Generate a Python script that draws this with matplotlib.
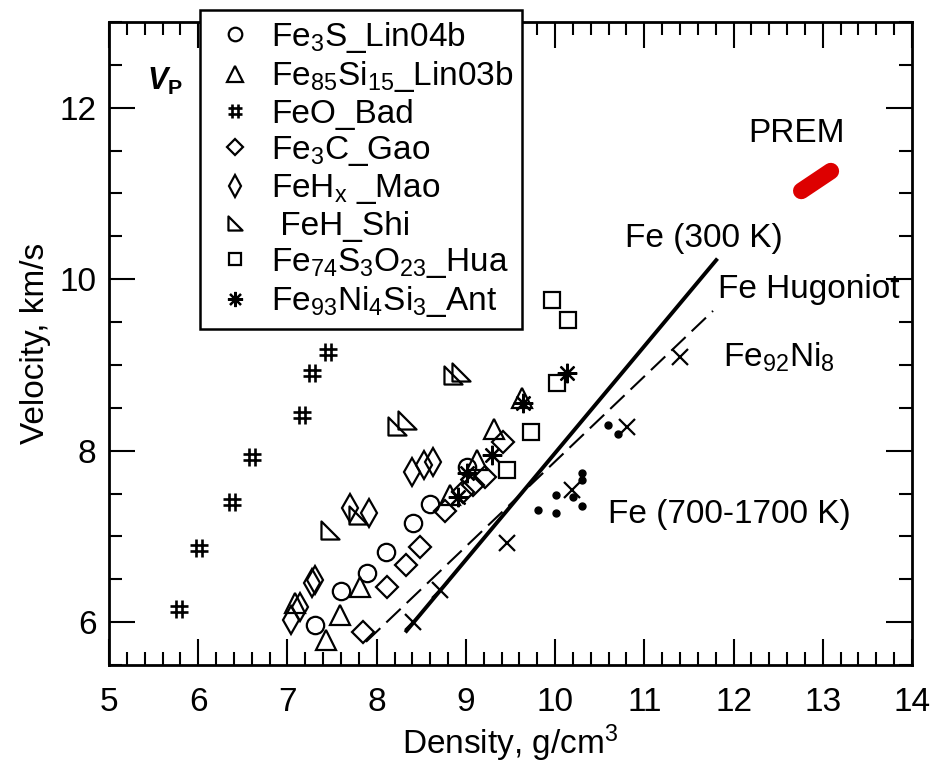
import matplotlib
matplotlib.use('Agg')
import matplotlib.pyplot as plt
from matplotlib.path import Path
from matplotlib.ticker import MultipleLocator

plt.rcParams['font.family'] = ['Liberation Sans', 'DejaVu Sans']
plt.rcParams['mathtext.fontset'] = 'custom'
plt.rcParams['mathtext.rm'] = 'Liberation Sans'
plt.rcParams['mathtext.it'] = 'Liberation Sans:italic:bold'
plt.rcParams['mathtext.bf'] = 'Liberation Sans:bold'
plt.rcParams['mathtext.default'] = 'regular'

# ---------------- data (density g/cm^3, Vp km/s) ----------------
fe3s_x = [7.31, 7.60, 7.89, 8.11, 8.41, 8.60, 9.01]
fe3s_y = [5.97, 6.36, 6.57, 6.82, 7.16, 7.38, 7.81]
fesi_x = [7.09, 7.43, 7.59, 7.81, 8.82, 9.12, 9.31, 9.63]
fesi_y = [6.22, 5.79, 6.08, 6.41, 7.48, 7.89, 8.25, 8.61]
feo_x = [5.78, 6.01, 6.38, 6.60, 7.16, 7.28, 7.455]
feo_y = [6.15, 6.86, 7.40, 7.93, 8.42, 8.91, 9.15]
fe3c_x = [7.85, 8.12, 8.33, 8.48, 8.77, 8.97, 9.08, 9.21, 9.42]
fe3c_y = [5.88, 6.41, 6.67, 6.88, 7.30, 7.52, 7.60, 7.69, 8.10]
fehx_x = [7.04, 7.14, 7.28, 7.31, 7.70, 7.91, 8.40, 8.53, 8.63]
fehx_y = [6.02, 6.18, 6.46, 6.49, 7.33, 7.27, 7.75, 7.83, 7.87]
feh_x = [7.48, 7.79, 8.23, 8.34, 8.85, 8.95]
feh_y = [7.07, 7.25, 8.29, 8.36, 8.88, 8.92]
fso_x = [9.46, 9.73, 10.02, 9.97, 10.15]
fso_y = [7.77, 8.22, 8.79, 9.76, 9.52]
fnsi_x = [8.91, 9.01, 9.29, 9.64, 10.13]
fnsi_y = [7.46, 7.74, 7.95, 8.56, 8.91]
feni_x = [8.41, 8.71, 9.46, 10.19, 10.81, 11.40]
feni_y = [6.00, 6.37, 6.92, 7.54, 8.28, 9.09]
fehot_x = [9.81, 10.01, 10.01, 10.20, 10.30, 10.30, 10.30, 10.59, 10.70]
fehot_y = [7.31, 7.27, 7.48, 7.46, 7.35, 7.74, 7.66, 8.30, 8.19]
fe300_x = [8.32, 11.82]
fe300_y = [5.88, 10.24]
hug_x = [7.88, 11.77]
hug_y = [5.77, 9.63]
prem_x = [12.76, 13.09]
prem_y = [11.03, 11.26]

labels = ['Fe$_3$S_Lin04b', 'Fe$_{85}$Si$_{15}$_Lin03b', 'FeO_Bad', 'Fe$_3$C_Gao',
          'FeH$_x$ _Mao', ' FeH_Shi', 'Fe$_{74}$S$_3$O$_{23}$_Hua', 'Fe$_{93}$Ni$_4$Si$_3$_Ant']

FS = 24

hash_marker = Path([(-0.35, -1), (-0.35, 1), (0.35, -1), (0.35, 1),
                    (-1, -0.35), (1, -0.35), (-1, 0.35), (1, 0.35)],
                   [Path.MOVETO, Path.LINETO] * 4)
rtri_marker = Path([(-1, -1), (-1, 1), (1, -1), (-1, -1)],
                   [Path.MOVETO, Path.LINETO, Path.LINETO, Path.CLOSEPOLY])

fig = plt.figure(figsize=(9.32, 7.71), dpi=100)
ax = fig.add_axes([0.117, 0.1375, 0.8615, 0.834])

ax.plot(fe300_x, fe300_y, color='k', lw=2.8, solid_capstyle='butt')
ax.plot(hug_x, hug_y, color='k', lw=1.5, dashes=(9.5, 4))
ax.plot(prem_x, prem_y, color='#dd0000', lw=12, solid_capstyle='round')

com = dict(ls='none', mec='k', mfc='none', mew=1.6)
ax.plot(fe3s_x, fe3s_y, marker='o', ms=12.5, label=labels[0], **com)
ax.plot(fesi_x, fesi_y, marker='^', ms=14, label=labels[1], **com)
ax.plot(feo_x, feo_y, marker=hash_marker, ms=13.5, label=labels[2],
        ls='none', mec='k', mfc='none', mew=1.9)
ax.plot(fe3c_x, fe3c_y, marker='D', ms=11, label=labels[3], **com)
ax.plot(fehx_x, fehx_y, marker='d', ms=14, label=labels[4], **com)
ax.plot(feh_x, feh_y, marker=rtri_marker, ms=13, label=labels[5], **com)
ax.plot(fso_x, fso_y, marker='s', ms=11.5, label=labels[6], **com)
ax.plot(fnsi_x, fnsi_y, marker=(8, 2, 0), ms=14, label=labels[7], **com)
ax.plot(feni_x, feni_y, marker='x', ms=12, **com)
ax.plot(fehot_x, fehot_y, ls='none', marker='o', ms=5, color='k')

ax.text(12.16, 11.60, 'PREM', fontsize=FS)
ax.text(10.78, 10.376, 'Fe (300 K)', fontsize=FS)
ax.text(11.83, 9.78, 'Fe Hugoniot', fontsize=FS)
ax.text(11.88, 8.98, 'Fe$_{92}$Ni$_8$', fontsize=FS)
ax.text(10.59, 7.155, 'Fe (700-1700 K)', fontsize=FS)
ax.text(5.43, 12.21, r'$\mathit{V}_{\mathbf{P}}$', fontsize=22)

ax.set_xlim(5, 14)
ax.set_ylim(5.5, 13)
ax.xaxis.set_major_locator(MultipleLocator(1))
ax.xaxis.set_minor_locator(MultipleLocator(0.2))
ax.yaxis.set_major_locator(MultipleLocator(2))
ax.yaxis.set_minor_locator(MultipleLocator(0.5))
ax.tick_params(which='both', direction='in', top=True, right=True, width=1.5,
               labelsize=FS)
ax.tick_params(which='major', length=19)
ax.tick_params(which='minor', length=9.5)
ax.tick_params(axis='x', pad=16)
ax.tick_params(axis='y', pad=9)
for s in ax.spines.values():
    s.set_linewidth(2)

ax.set_xlabel('Density, g/cm$^3$', fontsize=FS, labelpad=3)
ax.set_ylabel('Velocity, km/s', fontsize=FS, labelpad=6)

leg = ax.legend(loc='upper left', bbox_to_anchor=(0.113, 0.526, 0.401, 0.4927),
                mode='expand', borderaxespad=0, fontsize=FS, fancybox=False,
                edgecolor='k', framealpha=1, borderpad=0.3, handlelength=1.5,
                handletextpad=0.35, labelspacing=0.13, numpoints=1,
                markerscale=0.78)
leg.get_frame().set_linewidth(1.8)
leg.set_zorder(5)

fig.savefig('out.png', dpi=100)
